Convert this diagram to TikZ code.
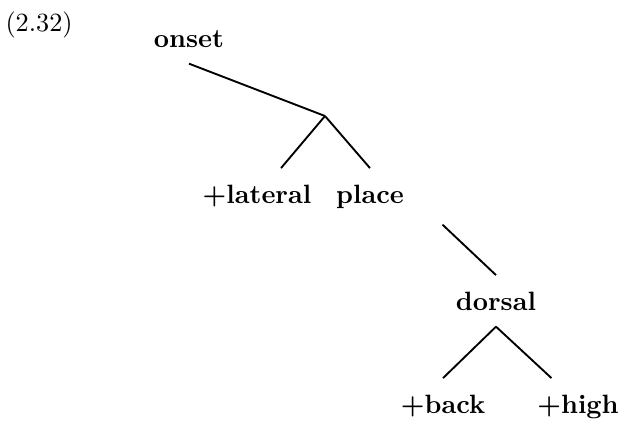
\documentclass[tikz,border=0pt]{standalone}
\usepackage{tikz}
\usetikzlibrary{positioning}
\begin{document}
\begin{tikzpicture}[x=0.4pt,y=-0.4pt]
	\tikzstyle{Feature}	= [anchor=base, inner xsep=0pt, inner ysep=6.4pt, font=\fontsize{10.6}{12}\selectfont\bfseries]
	\tikzstyle{Number}	= [anchor=base west, inner sep=0pt, font=\fontsize{10.5}{12}\selectfont]
	\tikzstyle{Branch}	= [line width=0.75pt, black]
	
	\useasboundingbox (0,0) rectangle (626,422);
	
	\node (num) at (5,31) [Number] {(2.32)};
	\foreach \n/\x/\y/\t in {onset/189/47/onset, lat/257/203/+lateral, place/370/203/place, dorsal/496/310/dorsal, back/443/413/+back, high/578/413/+high}
		\node (\n) at (\x,\y) [Feature] {\t};
	\coordinate (br) at (325,116);
	\foreach \a/\sa/\b/\sb in {onset.south/0/br/0, br/0/lat.north/9.6, br/0/place.north/0, place.south/29/dorsal.north/0, dorsal.south/0/back.north/0, dorsal.south/0/high.north/-10.6}
		\draw [-] ([xshift=\sa pt]\a) to ([xshift=\sb pt]\b) [Branch];
\end{tikzpicture}
\end{document}
